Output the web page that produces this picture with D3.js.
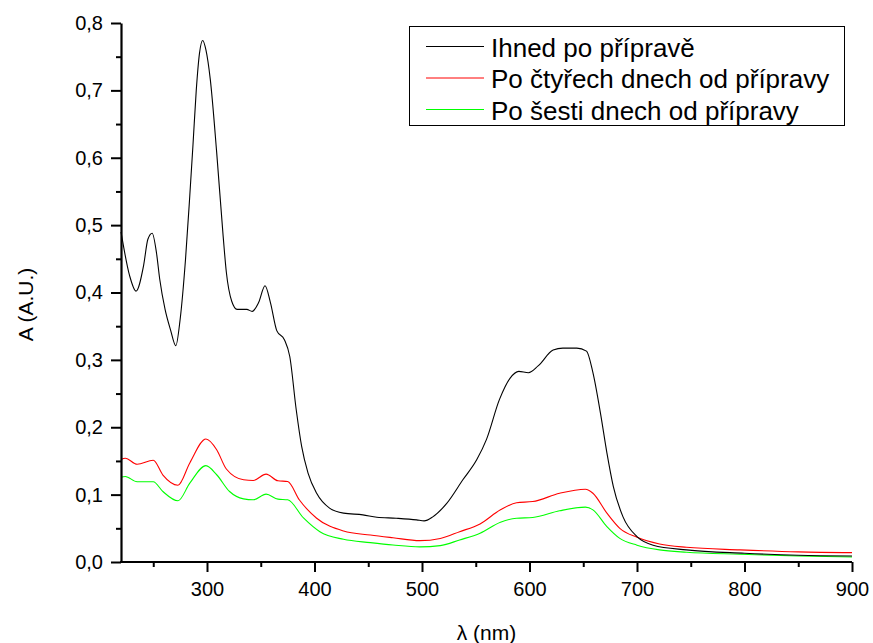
<!DOCTYPE html>
<html>
<head>
<meta charset="utf-8">
<script src="https://cdn.jsdelivr.net/npm/d3@7"></script>
<style>
  body { margin: 0; background: #fff; }
  svg text { font-family: "Liberation Sans", Arial, sans-serif; fill: #000; }
</style>
</head>
<body>
<svg></svg>
<script>
// ====== Données ====== //
const seriesNames = ["Ihned po přípravě", "Po čtyřech dnech od přípravy", "Po šesti dnech od přípravy"];
const seriesColors = ["#000000", "#ff0000", "#00ff00"];

// Ihned po přípravě
const blackX = [220,228,234,241,245,249,253,256,261,266,271,275,280,284,287,290,293,296,299,303,309,315,318,323,328,337,342,348,354,359,365,372,377,383,388,394,402,414,427,445,458,476,495,502,510,523,538,551,560,572,582,590,599,608,622,631,644,653,659,666,672,678,687,700,715,746,800,850,900];
const blackA = [0.490,0.425,0.402,0.440,0.479,0.488,0.459,0.420,0.375,0.345,0.321,0.360,0.449,0.544,0.620,0.700,0.755,0.774,0.760,0.717,0.608,0.484,0.430,0.387,0.375,0.375,0.372,0.385,0.410,0.385,0.343,0.330,0.305,0.226,0.172,0.132,0.102,0.080,0.0725,0.070,0.0665,0.065,0.0625,0.061,0.067,0.087,0.122,0.152,0.182,0.241,0.273,0.283,0.281,0.291,0.3145,0.3175,0.3175,0.313,0.281,0.221,0.162,0.112,0.067,0.0376,0.025,0.018,0.013,0.010,0.009];

// Po čtyřech dnech
const redX = [220,224,235,250,259,273,284,299,309,318,334,343,355,366,375,386,402,427,452,473,498,517,535,554,573,588,603,628,652,659,672,684,700,721,746,796,850,900];
const redA = [0.152,0.154,0.145,0.151,0.129,0.114,0.147,0.1825,0.1667,0.138,0.122,0.121,0.1305,0.1205,0.1195,0.092,0.065,0.046,0.040,0.036,0.0317,0.035,0.045,0.0565,0.0774,0.088,0.0897,0.102,0.108,0.102,0.0725,0.050,0.0367,0.0268,0.0218,0.018,0.015,0.0139];

// Po šesti dnech
const greenX = [220,224,235,250,259,273,284,299,309,321,334,343,355,366,375,390,405,427,452,473,498,517,535,554,573,588,603,628,652,659,672,684,700,721,746,796,850,900];
const greenA = [0.126,0.127,0.119,0.119,0.1046,0.0908,0.117,0.143,0.1295,0.1046,0.0937,0.0923,0.1007,0.0933,0.0923,0.065,0.045,0.0337,0.0288,0.0253,0.0225,0.0243,0.0327,0.0427,0.059,0.065,0.066,0.076,0.0814,0.0774,0.0525,0.035,0.025,0.018,0.0144,0.0115,0.009,0.0075];

const xMajor = [300,400,500,600,700,800,900];
const xMinor = [250,350,450,550,650,750,850];
const yMajor = [0,0.1,0.2,0.3,0.4,0.5,0.6,0.7,0.8];
const yMinor = [0.05,0.15,0.25,0.35,0.45,0.55,0.65,0.75];

// ====== Dimensions ====== //
const width = 873, height = 643;
const svg = d3.select("svg").attr("width", width).attr("height", height);

const x = d3.scaleLinear().domain([220, 900]).range([121, 852]);
const y = d3.scaleLinear().domain([0, 0.8]).range([562, 23]);

const fmt = d => d3.format(".1f")(d).replace(".", ",");

// Courbes
const seriesData = [
  d3.zip(blackX, blackA),
  d3.zip(redX, redA),
  d3.zip(greenX, greenA)
];
const line = d3.line().x(d => x(d[0])).y(d => y(d[1])).curve(d3.curveMonotoneX);

// ordre de tracé : vert, rouge, noir
[2, 1, 0].forEach(i => {
  svg.append("path")
    .datum(seriesData[i])
    .attr("fill", "none")
    .attr("stroke", seriesColors[i])
    .attr("stroke-width", 1.1)
    .attr("d", line);
});

// Axe X
const gx = svg.append("g").attr("transform", `translate(0,${y(0)})`);
gx.call(d3.axisBottom(x).tickValues(xMajor).tickSize(10).tickSizeOuter(0).tickPadding(10).tickFormat(d3.format("d")));
gx.append("g").call(d3.axisBottom(x).tickValues(xMinor).tickSize(5).tickSizeOuter(0).tickFormat(""))
  .select(".domain").remove();
gx.selectAll("text").attr("font-size", 20).attr("font-family", "Liberation Sans, Arial, sans-serif").attr("fill", "#000");
gx.selectAll(".domain").attr("stroke-width", 2.2).attr("d", `M${x(220) - 1},0H${x(900)}`);
gx.selectAll(".tick line").attr("stroke-width", 2);

// Axe Y
const gy = svg.append("g").attr("transform", `translate(${x(220)},0)`);
gy.call(d3.axisLeft(y).tickValues(yMajor).tickSize(10).tickSizeOuter(0).tickPadding(8).tickFormat(fmt));
gy.append("g").call(d3.axisLeft(y).tickValues(yMinor).tickSize(5).tickSizeOuter(0).tickFormat(""))
  .select(".domain").remove();
gy.selectAll("text").attr("font-size", 20).attr("font-family", "Liberation Sans, Arial, sans-serif").attr("fill", "#000");
gy.selectAll(".domain").attr("stroke-width", 2.2);
gy.selectAll(".tick line").attr("stroke-width", 2);

// Titres des axes
svg.append("text")
  .attr("x", (x(220) + x(900)) / 2)
  .attr("y", 640)
  .attr("text-anchor", "middle")
  .attr("font-size", 21)
  .text("λ (nm)");

svg.append("text")
  .attr("transform", `translate(33,${(y(0) + y(0.8)) / 2 + 12}) rotate(-90)`)
  .attr("text-anchor", "middle")
  .attr("font-size", 21)
  .text("A (A.U.)");

// Légende
const legend = svg.append("g");
legend.append("rect")
  .attr("x", 409.5).attr("y", 26.5)
  .attr("width", 435).attr("height", 99)
  .attr("fill", "#fff").attr("stroke", "#000").attr("stroke-width", 1);

seriesNames.forEach((name, i) => {
  const yy = 46.5 + i * 31.5;
  legend.append("line")
    .attr("x1", 426).attr("x2", 484)
    .attr("y1", yy).attr("y2", yy)
    .attr("stroke", seriesColors[i]).attr("stroke-width", 1);
  legend.append("text")
    .attr("x", 491)
    .attr("y", yy + 10)
    .attr("font-size", 26)
    .text(name);
});
</script>
</body>
</html>
